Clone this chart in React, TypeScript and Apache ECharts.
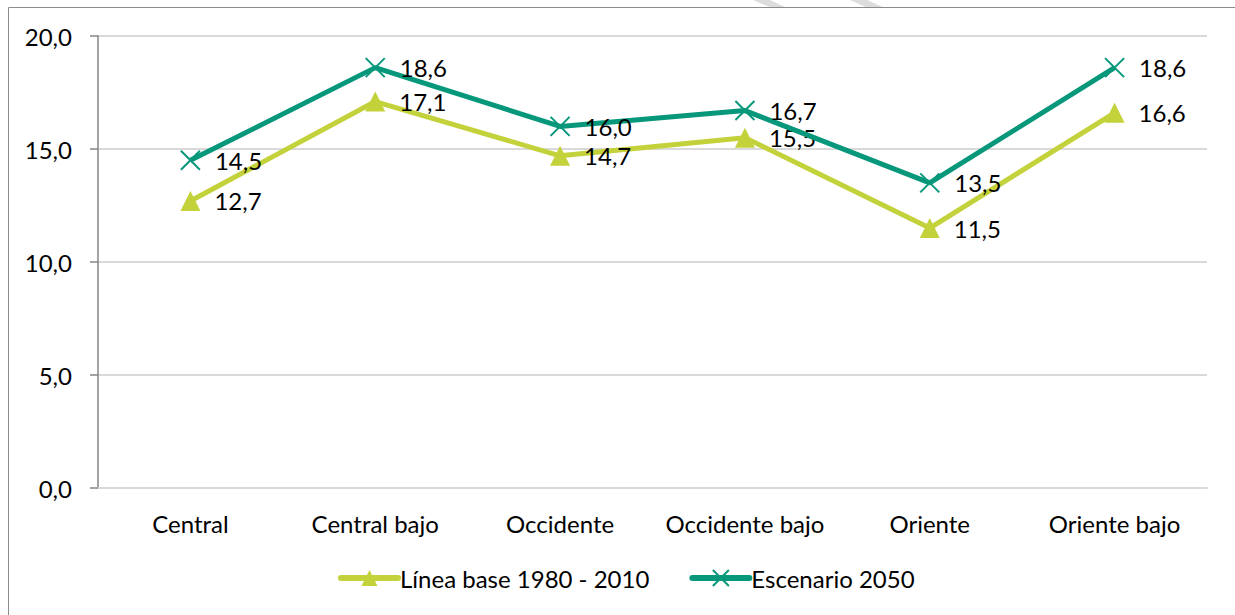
import React, { useEffect, useRef } from "react";
import * as echarts from "echarts";

const categories = ["Central", "Central bajo", "Occidente", "Occidente bajo", "Oriente", "Oriente bajo"];
const lineaBase = [12.7, 17.1, 14.7, 15.5, 11.5, 16.6];
const escenario2050 = [14.5, 18.6, 16.0, 16.7, 13.5, 18.6];
const seriesNames = ["Línea base 1980 - 2010", "Escenario 2050"];
const yTicks = { min: 0, max: 20, interval: 5 };

const LIME = "#c3d23a";
const TEAL = "#07977a";
const FONT = "Lato";
const FS = 24;

const fmt = (v: number) => v.toFixed(1).replace(".", ",");

export default function App() {
  const ref = useRef<HTMLDivElement>(null);
  useEffect(() => {
    const chart = echarts.init(ref.current!, null, { renderer: "svg" });
    const label = {
      show: true,
      position: "right" as const,
      distance: 14,
      color: "#000",
      fontFamily: FONT,
      fontSize: FS,
      formatter: (p: any) => fmt(p.value),
    };
    chart.setOption({
      animation: false,
      backgroundColor: "#fff",
      textStyle: { fontFamily: FONT },
      grid: { left: 98, right: 28, top: 36, bottom: 127, containLabel: false },
      graphic: [
        { type: "polygon", shape: { points: [[753, 0], [770, 0], [787, 8], [772, 8]] }, style: { fill: "#dcdcdc" }, z: 0 },
        { type: "polygon", shape: { points: [[850, 0], [867, 0], [885, 8], [868, 8]] }, style: { fill: "#dcdcdc" }, z: 0 },
        { type: "rect", shape: { x: 8.5, y: 7.5, width: 1300, height: 700 }, style: { fill: "none", stroke: "#8c8c8c", lineWidth: 1 }, z: 1 },
      ],
      legend: {
        bottom: 20,
        left: 333,
        itemWidth: 57,
        itemHeight: 20,
        itemGap: 40,
        lineStyle: { width: 6, cap: "round" },
        textStyle: { fontFamily: FONT, fontSize: FS, color: "#000", padding: [0, 0, 0, -3] },
        data: seriesNames,
      },
      xAxis: {
        type: "category",
        data: categories,
        boundaryGap: true,
        axisLine: { show: true, lineStyle: { color: "#d9d9d9", width: 2 } },
        axisTick: { show: false },
        axisLabel: { color: "#000", fontFamily: FONT, fontSize: FS, margin: 23, interval: 0 },
      },
      yAxis: {
        type: "value",
        min: yTicks.min,
        max: yTicks.max,
        interval: yTicks.interval,
        axisLine: { show: true, lineStyle: { color: "#868686", width: 1.5 } },
        axisTick: { show: true, length: 8, lineStyle: { color: "#868686", width: 1.5 } },
        axisLabel: { color: "#000", fontFamily: FONT, fontSize: FS, margin: 26, formatter: (v: number) => fmt(v) },
        splitLine: { show: true, lineStyle: { color: "#d9d9d9", width: 2 } },
      },
      series: [
        {
          name: seriesNames[0],
          type: "line",
          data: lineaBase,
          symbol: "triangle",
          symbolSize: 20,
          lineStyle: { color: LIME, width: 5 },
          itemStyle: { color: LIME },
          label,
          z: 2,
        },
        {
          name: seriesNames[1],
          type: "line",
          data: escenario2050,
          symbol: "path://M0,0L10,10M10,0L0,10",
          symbolSize: 19,
          lineStyle: { color: TEAL, width: 5 },
          itemStyle: { color: TEAL, borderColor: TEAL, borderWidth: 2 },
          label,
          z: 3,
        },
      ],
    });
    return () => chart.dispose();
  }, []);
  return <div ref={ref} style={{ position: "absolute", left: 0, top: 0, width: 1235, height: 615 }} />;
}
